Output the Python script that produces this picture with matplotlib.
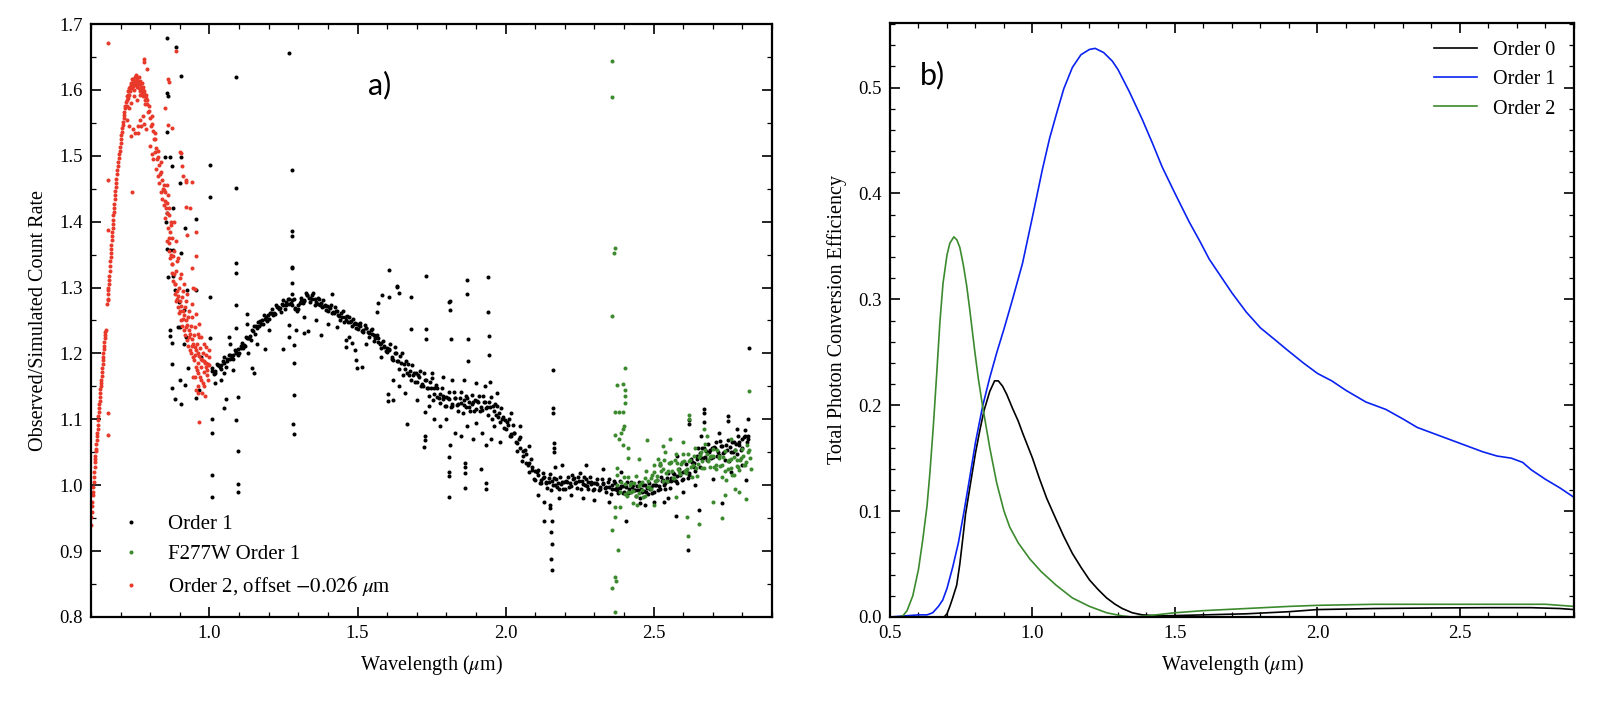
import matplotlib
matplotlib.use("Agg")
import matplotlib.pyplot as plt
from matplotlib.ticker import MultipleLocator

plt.rcParams["font.family"] = ["Liberation Serif", "DejaVu Serif"]
plt.rcParams["mathtext.fontset"] = "stix"

# ---------------- panel a) : observed / simulated count rate ----------------
# Order 1 band, first comb
order1_wave_a = [
    1.01, 1.02, 1.03, 1.04, 1.05, 1.06, 1.07, 1.08, 1.09, 1.10,
    1.11, 1.12, 1.13, 1.14, 1.15, 1.16, 1.17, 1.18, 1.19, 1.20,
    1.21, 1.22, 1.23, 1.24, 1.25, 1.26, 1.27, 1.28, 1.29, 1.30,
    1.31, 1.32, 1.33, 1.34, 1.35, 1.36, 1.37, 1.38, 1.39, 1.40,
    1.41, 1.42, 1.43, 1.44, 1.45, 1.46, 1.47, 1.48, 1.49, 1.50,
    1.51, 1.52, 1.53, 1.54, 1.55, 1.56, 1.57, 1.58, 1.59, 1.60,
    1.61, 1.62, 1.63, 1.64, 1.65, 1.66, 1.67, 1.68, 1.69, 1.70,
    1.71, 1.72, 1.73, 1.74, 1.75, 1.76, 1.77, 1.78, 1.79, 1.80,
    1.81, 1.82, 1.83, 1.84, 1.85, 1.86, 1.87, 1.88, 1.89, 1.90,
    1.91, 1.92, 1.93, 1.94, 1.95, 1.96, 1.97, 1.98, 1.99, 2.00,
    2.01, 2.02, 2.03, 2.04, 2.05, 2.06, 2.07, 2.08, 2.09, 2.10,
    2.11, 2.12, 2.13, 2.14, 2.15, 2.16, 2.17, 2.18, 2.19, 2.20,
    2.21, 2.22, 2.23, 2.24, 2.25, 2.26, 2.27, 2.28, 2.29, 2.30,
    2.31, 2.32, 2.33, 2.34, 2.35, 2.36, 2.37, 2.38, 2.39, 2.40,
    2.41, 2.42, 2.43, 2.44, 2.45, 2.46, 2.47, 2.48, 2.49, 2.50,
    2.51, 2.52, 2.53, 2.54, 2.55, 2.56, 2.57, 2.58, 2.59, 2.60,
    2.61, 2.62, 2.63, 2.64, 2.65, 2.66, 2.67, 2.68, 2.69, 2.70,
    2.71, 2.72, 2.73, 2.74, 2.75, 2.76, 2.77, 2.78, 2.79, 2.80,
    2.81, 2.82,
]
order1_ratio_a = [
    1.178, 1.171, 1.182, 1.176, 1.194, 1.188, 1.198, 1.191, 1.202, 1.200,
    1.216, 1.211, 1.224, 1.221, 1.242, 1.238, 1.249, 1.244, 1.255, 1.252,
    1.267, 1.260, 1.270, 1.263, 1.281, 1.274, 1.282, 1.274, 1.269, 1.267,
    1.284, 1.279, 1.289, 1.278, 1.291, 1.278, 1.282, 1.270, 1.274, 1.265,
    1.274, 1.261, 1.265, 1.251, 1.264, 1.251, 1.255, 1.242, 1.246, 1.237,
    1.246, 1.233, 1.238, 1.225, 1.237, 1.223, 1.224, 1.209, 1.212, 1.202,
    1.215, 1.190, 1.200, 1.176, 1.201, 1.176, 1.184, 1.160, 1.171, 1.156,
    1.174, 1.150, 1.160, 1.136, 1.163, 1.139, 1.148, 1.125, 1.135, 1.120,
    1.141, 1.120, 1.133, 1.112, 1.141, 1.121, 1.133, 1.113, 1.127, 1.115,
    1.136, 1.114, 1.127, 1.106, 1.134, 1.112, 1.120, 1.096, 1.104, 1.085,
    1.101, 1.074, 1.080, 1.052, 1.073, 1.044, 1.048, 1.020, 1.027, 1.008,
    1.023, 1.004, 1.013, 0.996, 1.017, 1.001, 1.009, 0.994, 1.005, 0.995,
    1.013, 0.999, 1.011, 0.996, 1.018, 1.002, 1.010, 0.995, 1.005, 0.994,
    1.010, 0.994, 1.004, 0.989, 1.010, 0.995, 1.003, 0.988, 0.999, 0.989,
    1.005, 0.990, 1.000, 0.984, 1.005, 0.990, 1.000, 0.986, 0.998, 0.990,
    1.008, 0.995, 1.008, 0.994, 1.019, 1.006, 1.017, 1.004, 1.018, 1.010,
    1.032, 1.015, 1.035, 1.021, 1.056, 1.041, 1.056, 1.038, 1.054, 1.043,
    1.066, 1.046, 1.059, 1.039, 1.069, 1.050, 1.065, 1.048, 1.065, 1.056,
    1.084, 1.070,
]

# Order 1 band, second comb
order1_wave_b = [
    1.015, 1.025, 1.035, 1.045, 1.055, 1.065, 1.075, 1.085, 1.095, 1.105,
    1.115, 1.125, 1.135, 1.145, 1.155, 1.165, 1.175, 1.185, 1.195, 1.205,
    1.215, 1.225, 1.235, 1.245, 1.255, 1.265, 1.275, 1.285, 1.295, 1.305,
    1.315, 1.325, 1.335, 1.345, 1.355, 1.365, 1.375, 1.385, 1.395, 1.405,
    1.415, 1.425, 1.435, 1.445, 1.455, 1.465, 1.475, 1.485, 1.495, 1.505,
    1.515, 1.525, 1.535, 1.545, 1.555, 1.565, 1.575, 1.585, 1.595, 1.605,
    1.615, 1.625, 1.635, 1.645, 1.655, 1.665, 1.675, 1.685, 1.695, 1.705,
    1.715, 1.725, 1.735, 1.745, 1.755, 1.765, 1.775, 1.785, 1.795, 1.805,
    1.815, 1.825, 1.835, 1.845, 1.855, 1.865, 1.875, 1.885, 1.895, 1.905,
    1.915, 1.925, 1.935, 1.945, 1.955, 1.965, 1.975, 1.985, 1.995, 2.005,
    2.015, 2.025, 2.035, 2.045, 2.055, 2.065, 2.075, 2.085, 2.095, 2.105,
    2.115, 2.125, 2.135, 2.145, 2.155, 2.165, 2.175, 2.185, 2.195, 2.205,
    2.215, 2.225, 2.235, 2.245, 2.255, 2.265, 2.275, 2.285, 2.295, 2.305,
    2.315, 2.325, 2.335, 2.345, 2.355, 2.365, 2.375, 2.385, 2.395, 2.405,
    2.415, 2.425, 2.435, 2.445, 2.455, 2.465, 2.475, 2.485, 2.495, 2.505,
    2.515, 2.525, 2.535, 2.545, 2.555, 2.565, 2.575, 2.585, 2.595, 2.605,
    2.615, 2.625, 2.635, 2.645, 2.655, 2.665, 2.675, 2.685, 2.695, 2.705,
    2.715, 2.725, 2.735, 2.745, 2.755, 2.765, 2.775, 2.785, 2.795, 2.805,
    2.815,
]
order1_ratio_b = [
    1.169, 1.184, 1.179, 1.189, 1.180, 1.197, 1.193, 1.205, 1.197, 1.209,
    1.208, 1.225, 1.223, 1.235, 1.229, 1.248, 1.245, 1.258, 1.249, 1.261,
    1.258, 1.273, 1.267, 1.275, 1.267, 1.282, 1.276, 1.283, 1.264, 1.277,
    1.276, 1.292, 1.284, 1.288, 1.274, 1.284, 1.274, 1.281, 1.266, 1.271,
    1.262, 1.270, 1.258, 1.261, 1.247, 1.257, 1.247, 1.253, 1.238, 1.243,
    1.234, 1.243, 1.232, 1.235, 1.219, 1.228, 1.215, 1.219, 1.203, 1.207,
    1.191, 1.210, 1.188, 1.196, 1.167, 1.188, 1.168, 1.183, 1.156, 1.168,
    1.150, 1.170, 1.148, 1.156, 1.129, 1.152, 1.133, 1.147, 1.120, 1.133,
    1.118, 1.141, 1.122, 1.133, 1.109, 1.135, 1.119, 1.137, 1.113, 1.128,
    1.113, 1.135, 1.117, 1.127, 1.100, 1.124, 1.104, 1.117, 1.087, 1.096,
    1.075, 1.092, 1.066, 1.070, 1.036, 1.054, 1.030, 1.040, 1.009, 1.020,
    1.004, 1.019, 1.004, 1.011, 0.993, 1.011, 0.998, 1.012, 0.994, 1.007,
    0.997, 1.016, 1.003, 1.012, 0.994, 1.012, 0.999, 1.012, 0.993, 1.004,
    0.992, 1.009, 0.996, 1.005, 0.986, 1.006, 0.992, 1.006, 0.988, 1.000,
    0.988, 1.005, 0.992, 0.999, 0.981, 1.001, 0.989, 1.004, 0.988, 1.001,
    0.992, 1.012, 1.001, 1.011, 0.996, 1.018, 1.007, 1.024, 1.008, 1.022,
    1.011, 1.040, 1.028, 1.045, 1.027, 1.057, 1.043, 1.063, 1.041, 1.058,
    1.044, 1.067, 1.049, 1.061, 1.037, 1.066, 1.053, 1.074, 1.053, 1.073,
    1.065,
]

# Order 1 band, third comb (close to the band centre)
order1_wave_m = [
    1.008, 1.018, 1.028, 1.038, 1.048, 1.058, 1.068, 1.078, 1.088, 1.098,
    1.108, 1.118, 1.128, 1.138, 1.148, 1.158, 1.168, 1.178, 1.188, 1.198,
    1.208, 1.218, 1.228, 1.238, 1.248, 1.258, 1.268, 1.278, 1.288, 1.298,
    1.308, 1.318, 1.328, 1.338, 1.348, 1.358, 1.368, 1.378, 1.388, 1.398,
    1.408, 1.418, 1.428, 1.438, 1.448, 1.458, 1.468, 1.478, 1.488, 1.498,
    1.508, 1.518, 1.528, 1.538, 1.548, 1.558, 1.568, 1.578, 1.588, 1.598,
    1.608, 1.618, 1.628, 1.638, 1.648, 1.658, 1.668, 1.678, 1.688, 1.698,
    1.708, 1.718, 1.728, 1.738, 1.748, 1.758, 1.768, 1.778, 1.788, 1.798,
    1.808, 1.818, 1.828, 1.838, 1.848, 1.858, 1.868, 1.878, 1.888, 1.898,
    1.908, 1.918, 1.928, 1.938, 1.948, 1.958, 1.968, 1.978, 1.988, 1.998,
    2.008, 2.018, 2.028, 2.038, 2.048, 2.058, 2.068, 2.078, 2.088, 2.098,
    2.108, 2.118, 2.128, 2.138, 2.148, 2.158, 2.168, 2.178, 2.188, 2.198,
    2.208, 2.218, 2.228, 2.238, 2.248, 2.258, 2.268, 2.278, 2.288, 2.298,
    2.308, 2.318, 2.328, 2.338, 2.348, 2.358, 2.368, 2.378, 2.388, 2.398,
    2.408, 2.418, 2.428, 2.438, 2.448, 2.458, 2.468, 2.478, 2.488, 2.498,
    2.508, 2.518, 2.528, 2.538, 2.548, 2.558, 2.568, 2.578, 2.588, 2.598,
    2.608, 2.618, 2.628, 2.638, 2.648, 2.658, 2.668, 2.678, 2.688, 2.698,
    2.708, 2.718, 2.728, 2.738, 2.748, 2.758, 2.768, 2.778, 2.788, 2.798,
    2.808, 2.818,
]
order1_ratio_m = [
    1.173, 1.173, 1.182, 1.182, 1.186, 1.192, 1.191, 1.198, 1.200, 1.207,
    1.211, 1.213, 1.224, 1.227, 1.234, 1.242, 1.242, 1.251, 1.253, 1.259,
    1.262, 1.262, 1.270, 1.269, 1.273, 1.278, 1.275, 1.281, 1.267, 1.274,
    1.279, 1.281, 1.289, 1.284, 1.283, 1.282, 1.275, 1.277, 1.272, 1.272,
    1.269, 1.263, 1.265, 1.257, 1.256, 1.255, 1.248, 1.249, 1.244, 1.244,
    1.241, 1.235, 1.238, 1.231, 1.229, 1.227, 1.217, 1.216, 1.210, 1.209,
    1.205, 1.194, 1.200, 1.188, 1.185, 1.184, 1.170, 1.174, 1.167, 1.170,
    1.164, 1.154, 1.160, 1.148, 1.147, 1.147, 1.134, 1.139, 1.131, 1.134,
    1.131, 1.124, 1.133, 1.124, 1.125, 1.129, 1.119, 1.127, 1.123, 1.129,
    1.126, 1.118, 1.127, 1.118, 1.118, 1.120, 1.106, 1.110, 1.100, 1.099,
    1.091, 1.078, 1.080, 1.064, 1.057, 1.052, 1.034, 1.034, 1.023, 1.022,
    1.015, 1.008, 1.011, 1.005, 1.005, 1.006, 1.000, 1.004, 1.002, 1.005,
    1.005, 1.003, 1.009, 1.005, 1.006, 1.007, 1.001, 1.005, 1.002, 1.004,
    1.002, 0.998, 1.002, 0.998, 0.998, 1.000, 0.994, 0.998, 0.996, 0.999,
    0.997, 0.994, 0.998, 0.993, 0.993, 0.995, 0.991, 0.996, 0.995, 1.000,
    1.000, 0.999, 1.006, 1.003, 1.007, 1.011, 1.008, 1.014, 1.015, 1.020,
    1.022, 1.019, 1.035, 1.033, 1.040, 1.049, 1.042, 1.052, 1.050, 1.057,
    1.056, 1.050, 1.059, 1.051, 1.053, 1.058, 1.051, 1.062, 1.061, 1.070,
    1.074, 1.074,
]

# Order 1 scattered points and outliers
order1_wave_c = [
    0.855, 0.886, 0.903, 1.090, 1.003, 1.090, 1.003, 0.855, 0.859, 0.855,
    0.849, 0.866, 0.873, 0.903, 0.900, 0.855, 0.876, 0.852, 0.956, 0.919,
    0.855, 0.866, 0.876, 0.903, 0.859, 0.876, 0.883, 0.923, 0.896, 0.913,
    0.866, 0.893, 0.900, 0.866, 0.873, 0.913, 0.920, 0.973, 0.873, 0.900,
    0.873, 0.883, 0.903, 0.926, 0.916, 0.956, 0.965,
    1.090, 1.090, 1.003, 0.953, 1.090, 1.090, 1.003, 1.097, 1.090, 1.007,
    1.007, 1.097, 1.007, 1.097, 1.097, 1.007, 1.050, 1.057, 1.128, 1.128,
    1.067, 1.070, 1.145, 1.150, 1.188, 1.249, 1.269, 1.279, 1.279, 1.279,
    1.269, 1.286, 1.286, 1.286, 1.282, 1.286, 1.292, 1.319, 1.333, 1.376,
    1.413, 1.460, 1.460, 1.481, 1.494, 1.497, 1.514, 1.555, 1.565, 1.568,
    1.582, 1.608, 1.635, 1.639, 1.608, 1.679, 1.679, 1.602, 1.602, 1.620,
    1.666, 1.733, 1.733, 1.733, 1.729, 1.729, 1.729, 1.726, 1.810, 1.813,
    1.817, 1.813, 1.810, 1.810, 1.810, 1.810, 1.871, 1.871, 1.874, 1.874,
    1.864, 1.864, 1.864, 1.864, 1.941, 1.941, 1.945, 1.945, 1.948, 1.934,
    1.934, 1.934, 1.918, 1.269, 1.279, 1.279, 1.279, 1.279, 1.632, 1.813,
    2.160, 2.160, 2.160, 2.163, 2.163, 2.163, 2.166, 2.150, 2.150, 2.130,
    2.157, 2.153, 2.156, 2.153, 2.156, 2.408, 2.577, 2.617, 2.620, 2.620,
    2.671, 2.671, 2.671, 2.751, 2.751, 2.822, 2.818, 2.654, 2.731, 2.812,
    2.536, 2.455,
    1.470, 1.490, 1.530, 1.580, 1.620, 1.640, 1.660, 1.700, 1.740, 1.760,
    1.780, 1.800, 1.830, 1.850, 1.870, 1.890, 1.900, 1.920, 1.950, 1.960,
    1.980, 1.750, 1.790, 1.820, 1.860, 1.900, 1.930, 1.970, 2.020, 2.050,
    2.080, 2.110, 2.130, 2.180, 2.220, 2.260, 2.300, 2.350, 2.470, 2.500,
    2.550, 2.600, 2.640, 2.700, 2.760, 2.800, 2.190, 2.270, 2.330, 2.390,
    2.520, 2.580, 2.660, 2.720, 2.780, 1.360, 1.400, 1.430, 1.320, 1.200,
    1.160, 1.130, 1.050, 1.080, 1.020, 1.040,
]
order1_ratio_c = [
    1.679, 1.665, 1.621, 1.620, 1.486, 1.451, 1.437, 1.595, 1.590, 1.536,
    1.498, 1.498, 1.484, 1.498, 1.459, 1.413, 1.421, 1.400, 1.404, 1.390,
    1.359, 1.357, 1.357, 1.352, 1.316, 1.318, 1.296, 1.296, 1.278, 1.266,
    1.236, 1.240, 1.240, 1.227, 1.216, 1.215, 1.225, 1.195, 1.184, 1.160,
    1.148, 1.131, 1.123, 1.178, 1.152, 1.133, 1.145,
    1.337, 1.322, 1.286, 1.296, 1.274, 1.239, 1.224, 1.134, 1.099, 1.101,
    1.079, 1.052, 1.016, 1.002, 0.990, 0.982, 1.117, 1.131, 1.260, 1.245,
    1.225, 1.215, 1.178, 1.170, 1.207, 1.207, 1.243, 1.331, 1.307, 1.290,
    1.225, 1.213, 1.186, 1.137, 1.093, 1.078, 1.236, 1.231, 1.234, 1.228,
    1.290, 1.210, 1.220, 1.216, 1.190, 1.178, 1.180, 1.228, 1.263, 1.277,
    1.289, 1.327, 1.302, 1.292, 1.285, 1.286, 1.237, 1.139, 1.128, 1.130,
    1.093, 1.318, 1.237, 1.222, 1.111, 1.075, 1.068, 1.058, 1.278, 1.266,
    1.222, 1.061, 1.043, 1.020, 1.014, 0.982, 1.312, 1.290, 1.222, 1.189,
    1.034, 1.027, 1.019, 0.996, 1.316, 1.263, 1.227, 1.198, 1.157, 1.061,
    0.994, 1.003, 1.025, 1.656, 1.478, 1.386, 1.378, 1.330, 1.301, 1.279,
    1.175, 1.117, 1.110, 1.064, 1.057, 1.050, 1.028, 0.970, 0.965, 0.946,
    0.945, 0.929, 0.911, 0.888, 0.871, 0.946, 0.953, 0.902, 1.099, 1.093,
    1.116, 1.110, 1.096, 1.105, 1.098, 1.208, 1.100, 0.962, 0.973, 1.008,
    0.975, 0.973,
    1.225, 1.205, 1.215, 1.195, 1.160, 1.150, 1.140, 1.130, 1.120, 1.100,
    1.090, 1.100, 1.080, 1.075, 1.090, 1.070, 1.095, 1.080, 1.070, 1.090,
    1.065, 1.170, 1.165, 1.160, 1.160, 1.155, 1.150, 1.140, 1.110, 1.090,
    1.060, 0.985, 0.975, 0.980, 0.985, 0.980, 0.978, 0.975, 0.970, 0.975,
    0.980, 0.990, 1.000, 1.010, 1.020, 1.030, 1.030, 1.030, 1.025, 1.020,
    1.030, 1.045, 1.075, 1.080, 1.085, 1.250, 1.245, 1.240, 1.255, 1.235,
    1.215, 1.200, 1.170, 1.175, 1.155, 1.160,
]

# F277W order 1
f277w_wave = [
    2.400, 2.410, 2.420, 2.430, 2.440, 2.450, 2.460, 2.470, 2.480, 2.490,
    2.500, 2.510, 2.520, 2.530, 2.540, 2.550, 2.560, 2.570, 2.580, 2.590,
    2.600, 2.610, 2.620, 2.630, 2.640, 2.650, 2.660, 2.670, 2.680, 2.690,
    2.700, 2.710, 2.720, 2.730, 2.740, 2.750, 2.760, 2.770, 2.780, 2.790,
    2.800, 2.810, 2.820, 2.830,
    2.405, 2.415, 2.425, 2.435, 2.445, 2.455, 2.465, 2.475, 2.485, 2.495,
    2.505, 2.515, 2.525, 2.535, 2.545, 2.555, 2.565, 2.575, 2.585, 2.595,
    2.605, 2.615, 2.625, 2.635, 2.645, 2.655, 2.665, 2.675, 2.685, 2.695,
    2.705, 2.715, 2.725, 2.735, 2.745, 2.755, 2.765, 2.775, 2.785, 2.795,
    2.805, 2.815, 2.825,
    2.402, 2.412, 2.422, 2.432, 2.442, 2.452, 2.462, 2.472, 2.482, 2.492,
    2.502, 2.512, 2.522, 2.532, 2.542, 2.552, 2.562, 2.572, 2.582, 2.592,
    2.602, 2.612, 2.622, 2.632, 2.642, 2.652, 2.662, 2.672, 2.682, 2.692,
    2.702, 2.712, 2.722, 2.732, 2.742, 2.752, 2.762, 2.772, 2.782, 2.792,
    2.802, 2.812, 2.822,
    2.361, 2.361, 2.371, 2.365, 2.361, 2.405, 2.378, 2.398, 2.405, 2.403,
    2.368, 2.382, 2.395, 2.405, 2.400, 2.398, 2.371, 2.390, 2.395, 2.412,
    2.415, 2.382, 2.378, 2.378, 2.368, 2.385, 2.368, 2.358, 2.381, 2.371,
    2.373, 2.361, 2.368, 2.385, 2.375, 2.390,
    2.822, 2.620, 2.620, 2.556, 2.479, 2.670, 2.577, 2.613, 2.617, 2.654,
    2.731, 2.812, 2.740, 2.500, 2.700, 2.790, 2.760, 2.600, 2.530, 2.450,
    2.680, 2.775,
]
f277w_ratio = [
    1.013, 0.984, 1.001, 0.973, 1.014, 0.988, 1.005, 0.983, 1.006, 0.995,
    1.030, 1.008, 1.031, 1.007, 1.050, 1.022, 1.035, 1.011, 1.033, 1.017,
    1.047, 1.019, 1.036, 1.012, 1.057, 1.032, 1.050, 1.026, 1.048, 1.028,
    1.055, 1.025, 1.041, 1.012, 1.052, 1.025, 1.040, 1.016, 1.038, 1.023,
    1.055, 1.030, 1.051, 1.025,
    0.987, 1.013, 0.990, 1.004, 0.970, 1.002, 0.982, 1.021, 0.998, 1.016,
    1.007, 1.040, 1.022, 1.039, 1.006, 1.034, 1.011, 1.048, 1.022, 1.035,
    1.021, 1.048, 1.027, 1.045, 1.014, 1.046, 1.026, 1.063, 1.036, 1.045,
    1.028, 1.054, 1.029, 1.043, 1.008, 1.038, 1.016, 1.053, 1.028, 1.042,
    1.031, 1.061, 1.041,
    1.002, 0.989, 1.004, 0.991, 0.983, 0.999, 0.992, 1.011, 0.998, 1.011,
    1.020, 1.014, 1.034, 1.025, 1.019, 1.033, 1.021, 1.039, 1.024, 1.032,
    1.036, 1.024, 1.039, 1.030, 1.026, 1.043, 1.036, 1.053, 1.039, 1.043,
    1.044, 1.030, 1.044, 1.030, 1.021, 1.036, 1.026, 1.043, 1.029, 1.038,
    1.044, 1.035, 1.054,
    1.644, 1.589, 1.360, 1.353, 1.257, 1.178, 1.152, 1.154, 1.145, 1.136,
    1.111, 1.111, 1.111, 1.125, 1.090, 1.086, 1.076, 1.080, 1.061, 1.057,
    1.041, 1.070, 1.016, 1.026, 0.967, 0.967, 0.952, 0.932, 0.902, 0.861,
    0.855, 0.844, 0.808, 0.990, 1.000, 1.005,
    1.143, 1.107, 1.100, 1.070, 1.069, 1.085, 0.982, 0.952, 0.923, 0.941,
    0.950, 0.979, 0.985, 0.970, 0.975, 0.990, 1.070, 1.065, 1.060, 1.040,
    1.075, 0.995,
]

# Order 2 (offset)
order2_wave = [
    0.600, 0.603, 0.605, 0.607, 0.609, 0.611, 0.613, 0.615, 0.617, 0.619,
    0.621, 0.623, 0.625, 0.627, 0.629, 0.631, 0.633, 0.635, 0.637, 0.639,
    0.641, 0.643, 0.645, 0.647, 0.649, 0.655, 0.657, 0.659, 0.661, 0.663,
    0.665, 0.667, 0.669, 0.671, 0.673, 0.675, 0.677, 0.679, 0.681, 0.683,
    0.686, 0.689, 0.692, 0.695, 0.698, 0.701, 0.704, 0.707, 0.710, 0.713,
    0.716, 0.720, 0.724, 0.728, 0.732, 0.736, 0.740, 0.745, 0.750, 0.755,
    0.760, 0.765, 0.770, 0.775, 0.780, 0.785, 0.790, 0.795, 0.800, 0.805,
    0.810, 0.815, 0.820, 0.825, 0.830, 0.835, 0.840, 0.845, 0.850, 0.855,
    0.860, 0.865, 0.870, 0.875, 0.880, 0.885, 0.890, 0.895, 0.900, 0.905,
    0.910, 0.915, 0.920, 0.925, 0.930, 0.935, 0.940, 0.945, 0.950, 0.955,
    0.960, 0.965, 0.970, 0.975, 0.980, 0.985, 0.990, 0.995, 1.000,
    0.601, 0.604, 0.606, 0.608, 0.610, 0.612, 0.614, 0.616, 0.618, 0.620,
    0.622, 0.624, 0.626, 0.628, 0.630, 0.632, 0.634, 0.636, 0.638, 0.640,
    0.642, 0.644, 0.646, 0.648, 0.656, 0.658, 0.660, 0.662, 0.664, 0.666,
    0.668, 0.670, 0.672, 0.674, 0.676, 0.678, 0.680, 0.682, 0.685, 0.688,
    0.691, 0.694, 0.697, 0.700, 0.703, 0.706, 0.709, 0.712, 0.715, 0.718,
    0.722, 0.726, 0.730, 0.734, 0.738, 0.742, 0.747, 0.752, 0.757, 0.762,
    0.767, 0.772, 0.777, 0.782, 0.787, 0.792, 0.797, 0.802, 0.807, 0.812,
    0.817, 0.822, 0.827, 0.832, 0.837, 0.842, 0.847, 0.852, 0.857, 0.862,
    0.867, 0.872, 0.877, 0.882, 0.887, 0.892, 0.897, 0.902, 0.907, 0.912,
    0.917, 0.922, 0.927, 0.932, 0.937, 0.942, 0.947, 0.952, 0.957, 0.962,
    0.967, 0.972, 0.977, 0.982, 0.987, 0.992, 0.997,
    0.720, 0.725, 0.728, 0.733, 0.737, 0.741, 0.744, 0.748, 0.751, 0.754,
    0.758, 0.761, 0.764, 0.768, 0.771, 0.774, 0.779, 0.783, 0.789, 0.745,
    0.755, 0.765, 0.735, 0.727,
    0.722, 0.728, 0.735, 0.742, 0.750, 0.758, 0.765, 0.770, 0.775, 0.780,
    0.785, 0.738, 0.758,
    0.800, 0.805, 0.810, 0.815, 0.820, 0.825, 0.830, 0.835, 0.840, 0.845,
    0.850, 0.855, 0.860, 0.865, 0.870, 0.850, 0.858, 0.863, 0.868, 0.873,
    0.878, 0.883, 0.888, 0.893, 0.898, 0.903, 0.908, 0.913, 0.918, 0.923,
    0.928, 0.933, 0.938, 0.943, 0.948, 0.953, 0.958, 0.963, 0.968, 0.973,
    0.978, 0.983, 0.988, 0.993, 0.998, 0.990, 0.980, 0.970, 0.960, 0.950,
    0.940, 0.930, 0.920, 0.910, 0.900, 0.890, 0.880, 0.875, 0.870, 0.865,
    0.880, 0.888, 0.895, 0.905, 0.915, 0.925, 0.940, 0.955, 0.965, 0.975,
    0.985, 0.995, 0.960, 0.945,
    0.657, 0.657, 0.657, 0.657, 0.657, 0.657, 0.778, 0.780, 0.788, 0.859,
    0.862, 0.886, 0.849, 0.859, 0.903, 0.906, 0.910, 0.956, 0.956, 0.950,
    0.966, 0.966, 0.950, 0.956, 0.960, 0.935, 0.940, 0.920, 0.925, 0.940,
    0.945, 0.872, 0.899, 0.922, 0.922,
]
order2_ratio = [
    0.940, 0.960, 0.975, 0.990, 1.005, 1.020, 1.035, 1.045, 1.055, 1.068,
    1.080, 1.092, 1.105, 1.117, 1.128, 1.140, 1.150, 1.160, 1.172, 1.184,
    1.195, 1.207, 1.218, 1.228, 1.236, 1.275, 1.290, 1.300, 1.312, 1.325,
    1.340, 1.352, 1.365, 1.378, 1.390, 1.403, 1.415, 1.427, 1.440, 1.452,
    1.465, 1.478, 1.490, 1.502, 1.514, 1.525, 1.536, 1.547, 1.557, 1.567,
    1.576, 1.585, 1.593, 1.600, 1.605, 1.608, 1.611, 1.613, 1.614, 1.614,
    1.612, 1.609, 1.605, 1.600, 1.594, 1.587, 1.578, 1.568, 1.558, 1.548,
    1.538, 1.525, 1.512, 1.498, 1.486, 1.475, 1.463, 1.448, 1.432, 1.413,
    1.390, 1.368, 1.350, 1.335, 1.320, 1.305, 1.295, 1.287, 1.280, 1.272,
    1.265, 1.258, 1.250, 1.243, 1.236, 1.229, 1.222, 1.215, 1.210, 1.205,
    1.200, 1.196, 1.192, 1.190, 1.188, 1.186, 1.185, 1.184, 1.183,
    0.952, 0.968, 0.985, 0.998, 1.012, 1.027, 1.040, 1.052, 1.062, 1.074,
    1.086, 1.099, 1.111, 1.123, 1.134, 1.146, 1.155, 1.166, 1.178, 1.190,
    1.201, 1.212, 1.224, 1.232, 1.282, 1.296, 1.306, 1.318, 1.333, 1.346,
    1.358, 1.372, 1.384, 1.397, 1.410, 1.421, 1.434, 1.446, 1.458, 1.472,
    1.484, 1.496, 1.508, 1.520, 1.531, 1.542, 1.552, 1.562, 1.572, 1.581,
    1.590, 1.598, 1.603, 1.610, 1.616, 1.606, 1.620, 1.607, 1.618, 1.603,
    1.613, 1.596, 1.604, 1.585, 1.592, 1.566, 1.575, 1.545, 1.560, 1.525,
    1.535, 1.495, 1.508, 1.472, 1.490, 1.450, 1.455, 1.420, 1.428, 1.375,
    1.385, 1.335, 1.348, 1.305, 1.325, 1.282, 1.300, 1.265, 1.285, 1.252,
    1.270, 1.240, 1.256, 1.225, 1.242, 1.212, 1.228, 1.198, 1.215, 1.185,
    1.208, 1.180, 1.200, 1.172, 1.198, 1.168, 1.195,
    1.575, 1.588, 1.592, 1.598, 1.603, 1.617, 1.600, 1.610, 1.622, 1.604,
    1.609, 1.619, 1.598, 1.602, 1.611, 1.590, 1.598, 1.578, 1.584, 1.590,
    1.585, 1.592, 1.580, 1.572,
    1.555, 1.545, 1.530, 1.540, 1.535, 1.545, 1.555, 1.545, 1.560, 1.548,
    1.540, 1.445, 1.534,
    1.515, 1.502, 1.495, 1.505, 1.480, 1.470, 1.458, 1.445, 1.435, 1.425,
    1.445, 1.455, 1.440, 1.420, 1.400, 1.405, 1.370, 1.355, 1.345, 1.322,
    1.310, 1.290, 1.280, 1.270, 1.262, 1.250, 1.242, 1.235, 1.228, 1.220,
    1.212, 1.205, 1.200, 1.195, 1.190, 1.180, 1.175, 1.170, 1.165, 1.160,
    1.155, 1.150, 1.180, 1.175, 1.205, 1.210, 1.215, 1.225, 1.230, 1.240,
    1.255, 1.265, 1.280, 1.295, 1.315, 1.340, 1.355, 1.375, 1.395, 1.410,
    1.400, 1.370, 1.345, 1.320, 1.305, 1.290, 1.275, 1.260, 1.245, 1.140,
    1.135, 1.160, 1.150, 1.165,
    1.671, 1.463, 1.387, 1.281, 1.110, 1.076, 1.647, 1.642, 1.632, 1.617,
    1.612, 1.659, 1.572, 1.547, 1.504, 1.484, 1.470, 1.384, 1.348, 1.298,
    1.225, 1.096, 1.164, 1.145, 1.140, 1.420, 1.460, 1.460, 1.380, 1.330,
    1.300, 1.542, 1.506, 1.463, 1.422,
]

# ---------------- panel b) : total photon conversion efficiency ----------------
order0_wave = [0.50, 0.69, 0.70, 0.71, 0.72, 0.734, 0.745, 0.755, 0.765, 0.78,
               0.80, 0.815, 0.83, 0.85, 0.867, 0.88, 0.895, 0.91, 0.93, 0.95,
               0.965, 1.00, 1.024, 1.05, 1.083, 1.11, 1.14, 1.17, 1.20, 1.23,
               1.26, 1.29, 1.315, 1.35, 1.385, 1.45, 1.60, 1.75, 1.90, 2.00,
               2.20, 2.40, 2.60, 2.75, 2.85, 2.90]
order0_eff = [0.0, 0.0, 0.003, 0.010, 0.018, 0.030, 0.050, 0.073, 0.097, 0.122,
              0.155, 0.176, 0.195, 0.213, 0.223, 0.223, 0.218, 0.210, 0.197, 0.185,
              0.174, 0.150, 0.131, 0.112, 0.092, 0.076, 0.060, 0.047, 0.035, 0.026,
              0.018, 0.012, 0.008, 0.004, 0.002, 0.001, 0.002, 0.003, 0.005, 0.007,
              0.008, 0.0085, 0.0088, 0.0088, 0.008, 0.007]

order1_line_wave = [0.50, 0.55, 0.60, 0.63, 0.65, 0.67, 0.685, 0.70, 0.72, 0.74,
                    0.76, 0.78, 0.80, 0.825, 0.85, 0.875, 0.90, 0.93, 0.965, 1.00,
                    1.035, 1.06, 1.085, 1.11, 1.14, 1.17, 1.20, 1.22, 1.25, 1.28,
                    1.30, 1.34, 1.385, 1.42, 1.455, 1.50, 1.55, 1.585, 1.62, 1.66,
                    1.70, 1.75, 1.80, 1.85, 1.89, 1.95, 2.00, 2.05, 2.10, 2.17,
                    2.24, 2.30, 2.35, 2.42, 2.48, 2.53, 2.58, 2.63, 2.68, 2.72,
                    2.75, 2.80, 2.85, 2.90]
order1_line_eff = [0.000, 0.001, 0.002, 0.002, 0.004, 0.010, 0.016, 0.027, 0.047, 0.070,
                   0.100, 0.132, 0.165, 0.199, 0.226, 0.250, 0.272, 0.300, 0.334, 0.378,
                   0.423, 0.452, 0.476, 0.499, 0.519, 0.531, 0.536, 0.537, 0.533, 0.525,
                   0.517, 0.496, 0.470, 0.448, 0.425, 0.400, 0.373, 0.356, 0.338, 0.322,
                   0.306, 0.288, 0.273, 0.262, 0.253, 0.240, 0.230, 0.223, 0.214, 0.203,
                   0.196, 0.187, 0.179, 0.172, 0.166, 0.161, 0.156, 0.152, 0.150, 0.146,
                   0.139, 0.130, 0.122, 0.113]

order2_line_wave = [0.50, 0.53, 0.545, 0.56, 0.58, 0.60, 0.615, 0.63, 0.64, 0.652,
                    0.664, 0.675, 0.686, 0.70, 0.71, 0.724, 0.735, 0.745, 0.757, 0.769,
                    0.78, 0.797, 0.81, 0.825, 0.85, 0.874, 0.90, 0.92, 0.95, 0.99,
                    1.03, 1.083, 1.14, 1.20, 1.26, 1.315, 1.35, 1.40, 1.50, 1.60,
                    1.75, 1.90, 2.00, 2.20, 2.50, 2.70, 2.80, 2.90]
order2_line_eff = [0.000, 0.000, 0.001, 0.006, 0.020, 0.045, 0.073, 0.105, 0.136, 0.180,
                   0.230, 0.278, 0.315, 0.342, 0.353, 0.359, 0.356, 0.349, 0.333, 0.313,
                   0.290, 0.252, 0.225, 0.199, 0.160, 0.127, 0.100, 0.085, 0.070, 0.055,
                   0.043, 0.030, 0.018, 0.010, 0.004, 0.001, 0.000, 0.001, 0.004, 0.006,
                   0.008, 0.010, 0.011, 0.012, 0.012, 0.012, 0.012, 0.010]

BLACK = "#000000"
GREEN = "#3c8a2e"
RED = "#e8392b"
BLUE = "#0a22f0"

TICK_SIZE = 13.5
LABEL_SIZE = 14.5


def style_axes(ax, xminor, yminor):
    ax.xaxis.set_minor_locator(MultipleLocator(xminor))
    ax.yaxis.set_minor_locator(MultipleLocator(yminor))
    ax.tick_params(which="both", direction="in", top=True, right=True,
                   labelsize=TICK_SIZE, pad=6)
    ax.tick_params(which="major", length=7, width=1.2)
    ax.tick_params(which="minor", length=3.6, width=0.9)
    for side in ax.spines.values():
        side.set_linewidth(1.6)


fig = plt.figure(figsize=(16.22, 7.02), dpi=100)
ax1 = fig.add_axes([0.0561, 0.1211, 0.4199, 0.8447])
ax2 = fig.add_axes([0.5487, 0.1211, 0.4217, 0.8462])

dot = dict(linestyle="none", marker="o", markersize=2.9, markeredgewidth=0)
ax1.plot(order1_wave_a + order1_wave_b + order1_wave_m + order1_wave_c,
         order1_ratio_a + order1_ratio_b + order1_ratio_m + order1_ratio_c,
         color=BLACK, label="Order 1", **dot)
ax1.plot(f277w_wave, f277w_ratio, color=GREEN, label="F277W Order 1", **dot)
ax1.plot(order2_wave, order2_ratio, color=RED,
         label=r"Order 2, offset $-0.026$ $\mu$m", **dot)

ax1.set_xlim(0.6, 2.9)
ax1.set_ylim(0.8, 1.7)
ax1.xaxis.set_major_locator(MultipleLocator(0.5))
ax1.yaxis.set_major_locator(MultipleLocator(0.1))
ax1.set_xlabel(r"Wavelength ($\mu$m)", fontsize=LABEL_SIZE, labelpad=8)
ax1.set_ylabel("Observed/Simulated Count Rate", fontsize=LABEL_SIZE, labelpad=8)
style_axes(ax1, 0.1, 0.05)
ax1.legend(loc="lower left", frameon=False, fontsize=15,
           labelspacing=0.5, handletextpad=0.8)
ax1.text(0.407, 0.897, "a)", transform=ax1.transAxes, fontsize=22,
         family="Lato", va="center", ha="left")

ax2.plot(order0_wave, order0_eff, color=BLACK, linewidth=1.2, label="Order 0")
ax2.plot(order1_line_wave, order1_line_eff, color=BLUE, linewidth=1.2, label="Order 1")
ax2.plot(order2_line_wave, order2_line_eff, color=GREEN, linewidth=1.2, label="Order 2")
ax2.set_xlim(0.5, 2.9)
ax2.set_ylim(0.0, 0.561)
ax2.xaxis.set_major_locator(MultipleLocator(0.5))
ax2.yaxis.set_major_locator(MultipleLocator(0.1))
ax2.set_xlabel(r"Wavelength ($\mu$m)", fontsize=LABEL_SIZE, labelpad=8)
ax2.set_ylabel("Total Photon Conversion Efficiency", fontsize=LABEL_SIZE, labelpad=8)
style_axes(ax2, 0.1, 0.02)
ax2.legend(loc="upper right", frameon=False, fontsize=LABEL_SIZE,
           labelspacing=0.5, handlelength=2.15, handletextpad=0.8)
ax2.text(0.044, 0.912, "b)", transform=ax2.transAxes, fontsize=22,
         family="Lato", va="center", ha="left")

fig.savefig("out.png", dpi=100)
